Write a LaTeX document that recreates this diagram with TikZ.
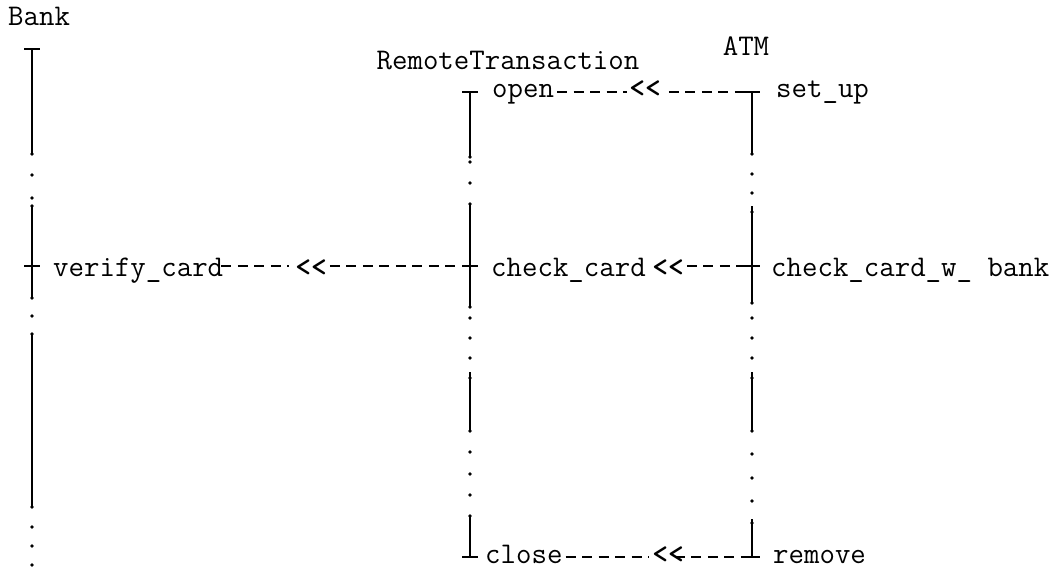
\documentclass[tikz,border=0pt]{standalone}
\usetikzlibrary{calc}
\newcommand\ttbig{\fontsize{30}{32}\selectfont\ttfamily}
\begin{document}
\begin{tikzpicture}[x=1pt,y=-1pt,
  life/.style={line width=1.9pt},
  lifedot/.style={fill,circle,inner sep=0pt,minimum size=3.8pt},
  msg/.style={dash pattern=on 10pt off 6.5pt,line width=1.9pt},
  lbl/.style={font=\ttbig,inner sep=0pt,anchor=base west},
  head/.style={font=\ttbig,inner sep=0pt,anchor=base},
  chev/.style={font=\ttbig\bfseries,inner sep=0pt,anchor=base}]
\useasboundingbox (0,0) rectangle (1055,571);

% headers
\node[lbl] (bank) at (8,25) {Bank};
\node[head] (rt) at (508,69) {RemoteTransaction};
\node[head] (atm) at (746,55) {ATM};

% Bank lifeline
\draw[life] (24,49) -- (40,49);
\draw[life] (32,49) -- (32,154);
\draw[life] (32,206) -- (32,298);
\draw[life] (32,334) -- (32,507);
\draw[life] (24,266) -- (40,266);
\foreach \y in {154,175,198,206,298,316,334,507,527,546,565}
  \node[lifedot] at (32,\y) {};

% RemoteTransaction lifeline
\draw[life] (462,92) -- (478,92);
\draw[life] (470,92) -- (470,157);
\draw[life] (470,204) -- (470,307);
\draw[life] (470,372) -- (470,431);
\draw[life] (470,516) -- (470,557);
\draw[life] (462,266) -- (478,266);
\draw[life] (462,557) -- (478,557);
\foreach \y in {157,162,183,204,307,318,338,358,378,431,452,474,495,516}
  \node[lifedot] at (470,\y) {};

% ATM lifeline
\draw[life] (744,92) -- (760,92);
\draw[life] (752,92) -- (752,154);
\draw[life] (752,206) -- (752,303);
\draw[life] (752,372) -- (752,431);
\draw[life] (752,519) -- (752,557);
\draw[life] (744,266) -- (760,266);
\draw[life] (744,557) -- (760,557);
\foreach \y in {154,174,193,212,303,318,338,358,378,431,454,478,501,523}
  \node[lifedot] at (752,\y) {};

% message row levels
\coordinate (r1) at (0,92);
\coordinate (r2) at (0,266);
\coordinate (r3) at (0,557);
\coordinate (atm1) at (744,92);
\coordinate (rt2) at (462,266);
\coordinate (atm2) at (752,266);
\coordinate (atm3) at (752,557);

% row 1
\node[lbl] (open) at (492,97) {open};
\node[lbl] (setup) at (776,97) {set\_up};
\node[chev] (a1) at (645,97) {<<};
\draw[msg] ([xshift=3pt]open.east |- r1) -- ([xshift=-2pt]a1.west |- r1);
\draw[msg] ([xshift=8pt]a1.east |- r1) -- (atm1);

% row 2
\node[lbl] (verify) at (53,276) {verify\_card};
\node[lbl] (check) at (491,276) {check\_card};
\node[lbl] (cwb) at (771,276) {check\_card\_w\_ bank};
\node[chev] (a2) at (311,276) {<<};
\node[chev] (a3) at (668,276) {<<};
\draw[msg] ([xshift=-2pt]verify.east |- r2) -- ([xshift=-6pt]a2.west |- r2);
\draw[msg] ([xshift=3pt]a2.east |- r2) -- ([xshift=-4pt]rt2);
\draw[msg] ([xshift=3pt]a3.east |- r2) -- (atm2);

% row 3
\node[lbl] (close) at (485,563) {close};
\node[lbl] (remove) at (773,563) {remove};
\node[chev] (a4) at (668,563) {<<};
\draw[msg] ([xshift=3pt]close.east |- r3) -- ([xshift=-3pt]a4.west |- r3);
\draw[msg] ([xshift=-9pt]a4.east |- r3) -- (atm3);
\end{tikzpicture}
\end{document}
